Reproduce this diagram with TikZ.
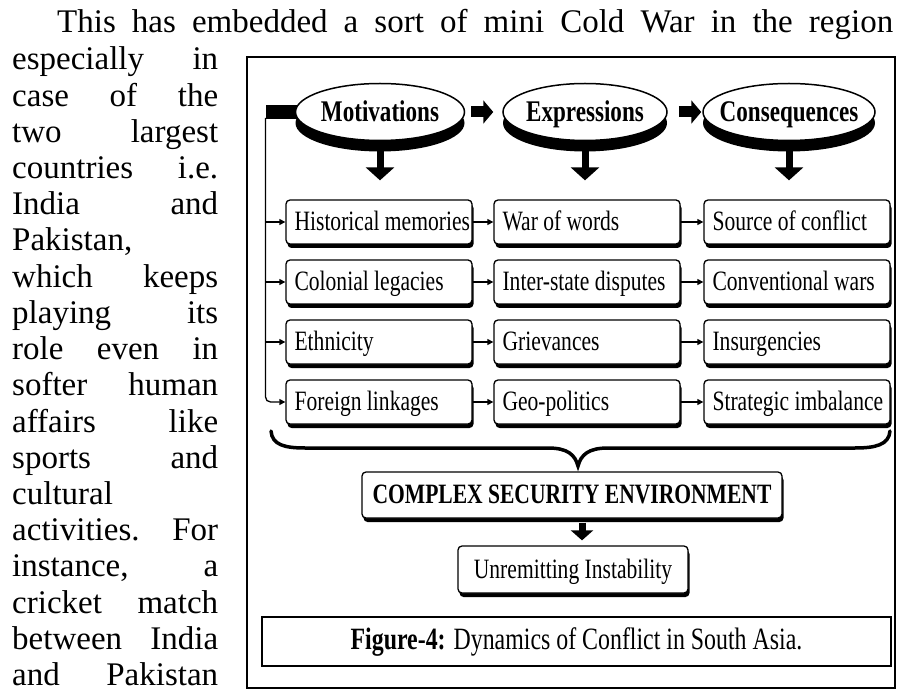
\documentclass[tikz,border=0pt]{standalone}
\usepackage{fontspec}
\setmainfont{Liberation Serif}
\newfontfamily\dfont[FakeStretch=0.77]{Liberation Serif}
\usetikzlibrary{arrows.meta,shadows,shapes.geometric,backgrounds,calc}

\begin{document}
\begin{tikzpicture}[x=1pt,y=-1pt,
  body/.style={anchor=base west, inner sep=0pt, font=\fontsize{33}{36}\selectfont},
  headell/.style={ellipse, draw, line width=1.5pt, fill=white, minimum height=57pt, inner sep=0pt,
     general shadow={fill=black, shadow yshift=-11pt}},
  headtxt/.style={anchor=base, inner sep=0pt, font=\dfont\bfseries\fontsize{30}{32}\selectfont},
  boxn/.style={draw, line width=1.3pt, rounded corners=4pt, fill=white, minimum height=44pt,
     minimum width=186pt, inner sep=0pt,
     general shadow={fill=black, rounded corners=4pt, shadow xshift=1.5pt, shadow yshift=-4pt}},
  boxtxt/.style={anchor=base west, inner sep=0pt, font=\dfont\fontsize{28}{30}\selectfont},
  cbox/.style={draw, line width=1.3pt, rounded corners=4pt, fill=white, inner sep=0pt,
     text height=20pt, text depth=3pt,
     general shadow={fill=black, rounded corners=4pt, shadow xshift=1.5pt, shadow yshift=-4pt}},
  thinarr/.style={line width=1.3pt, -{Triangle[length=6pt,width=6pt]}},
  blockh/.style={line width=11pt, -{Triangle[length=10pt,width=23pt]}},
  blockv/.style={line width=7pt, -{Triangle[length=13pt,width=28pt]}},
]
\newcommand\mybox[4]{%
  \node[boxn] (#1) at (#2,#3) {};
  \node[boxtxt] (#1t) at ([xshift=9pt,yshift=-8.5pt]#1.west) {#4};}
\useasboundingbox (0,0) rectangle (899,692);

% ---- running text ----
\node[body] (top) at (57,33) {\makebox[836pt][s]{This has embedded a sort of mini Cold War in the region}};
\foreach \t [count=\i from 0] in {{especially in},{case of the},{two largest},{countries i.e.},{India and},
   {Pakistan,\hfill},{which keeps},{playing its},{role even in},{softer human},{affairs like},
   {sports and},{cultural\hfill},{activities. For},{instance, a},{cricket match},{between India},{and Pakistan}}
  \node[body] (L\i) at (12,70+36.2*\i) {\makebox[206pt][s]{\t}};

% ---- frame ----
\node[draw, line width=1.8pt, minimum width=648pt, minimum height=631pt, inner sep=0pt] (frame) at (571,372.5) {};

% ---- heading ellipses ----
\node[headell, minimum width=169pt] (mot) at (380,112) {};
\node[headell, minimum width=164pt] (exp) at (585,112) {};
\node[headell, minimum width=172pt] (con) at (789,112) {};
\node[headtxt] (motT) at ([yshift=-10pt]mot.center) {Motivations};
\node[headtxt] (expT) at ([yshift=-10pt]exp.center) {Expressions};
\node[headtxt] (conT) at ([yshift=-10pt]con.center) {Consequences};

% ---- boxes ----
\mybox{b11}{379}{222}{Historical memories}
\mybox{b12}{587}{222}{War of words}
\mybox{b13}{797}{222}{Source of conflict}
\mybox{b21}{379}{282}{Colonial legacies}
\mybox{b22}{587}{282}{Inter-state disputes}
\mybox{b23}{797}{282}{Conventional wars}
\mybox{b31}{379}{342}{Ethnicity}
\mybox{b32}{587}{342}{Grievances}
\mybox{b33}{797}{342}{Insurgencies}
\mybox{b41}{379}{402}{Foreign linkages}
\mybox{b42}{587}{402}{Geo-politics}
\mybox{b43}{797}{402}{Strategic imbalance}

% ---- connectors ----
\coordinate (lc) at (265.5,112);
\begin{scope}[on background layer]
  \draw[line width=14pt] (mot.center) -- (lc);
\end{scope}
\draw[line width=1.3pt, rounded corners=5pt, -{Triangle[length=6pt,width=6pt]}] ([yshift=-6pt]lc) |- (b41.west);
\foreach \r in {1,2,3} \draw[thinarr] (lc |- b\r1.west) -- (b\r1.west);
\foreach \r in {1,2,3,4} {
  \draw[thinarr] (b\r1.east) -- (b\r2.west);
  \draw[thinarr] (b\r2.east) -- (b\r3.west);
}
\draw[blockh, shorten <=6pt, shorten >=9pt] (mot.east) -- (exp.west);
\draw[blockh, shorten <=11pt, shorten >=1pt] (exp.east) -- (con.west);
\foreach \h/\b in {mot/b11,exp/b12,con/b13}
  \draw[blockv, shorten <=9pt, shorten >=19pt] (\h.south) -- (\h.south |- \b.north);

% ---- brace ----
\coordinate (bt) at (578,466);
\draw[line width=3.5pt, line cap=round]
  (271,431) .. controls (272,445) and (285,448) .. (305,448) -- (548,448)
  .. controls (568,448) and (575,455) .. (bt)
  .. controls (581,455) and (588,448) .. (608,448) -- (855,448)
  .. controls (875,448) and (889,445) .. (890,431);

% ---- lower boxes ----
\node[cbox, minimum width=420pt, minimum height=46pt, font=\dfont\bfseries\fontsize{28}{30}\selectfont] (cse) at (572,495) {COMPLEX SECURITY ENVIRONMENT};
\node[cbox, minimum width=230pt, minimum height=47pt, font=\dfont\fontsize{28}{30}\selectfont] (unr) at (573,569.5) {Unremitting Instability};
\draw[line width=7pt, -{Triangle[length=10pt,width=22pt]}, shorten <=4pt, shorten >=5pt] ([xshift=10pt]cse.south) -- ([xshift=10pt]cse.south |- unr.north);

% ---- caption ----
\node[draw, line width=1.5pt, minimum width=629pt, minimum height=49pt, inner sep=0pt,
      text height=21pt, text depth=6pt, font=\dfont\fontsize{31}{33}\selectfont] (cap) at (576.5,641.5)
  {{\bfseries Figure-4:} Dynamics of Conflict in South Asia.};
\end{tikzpicture}
\end{document}
